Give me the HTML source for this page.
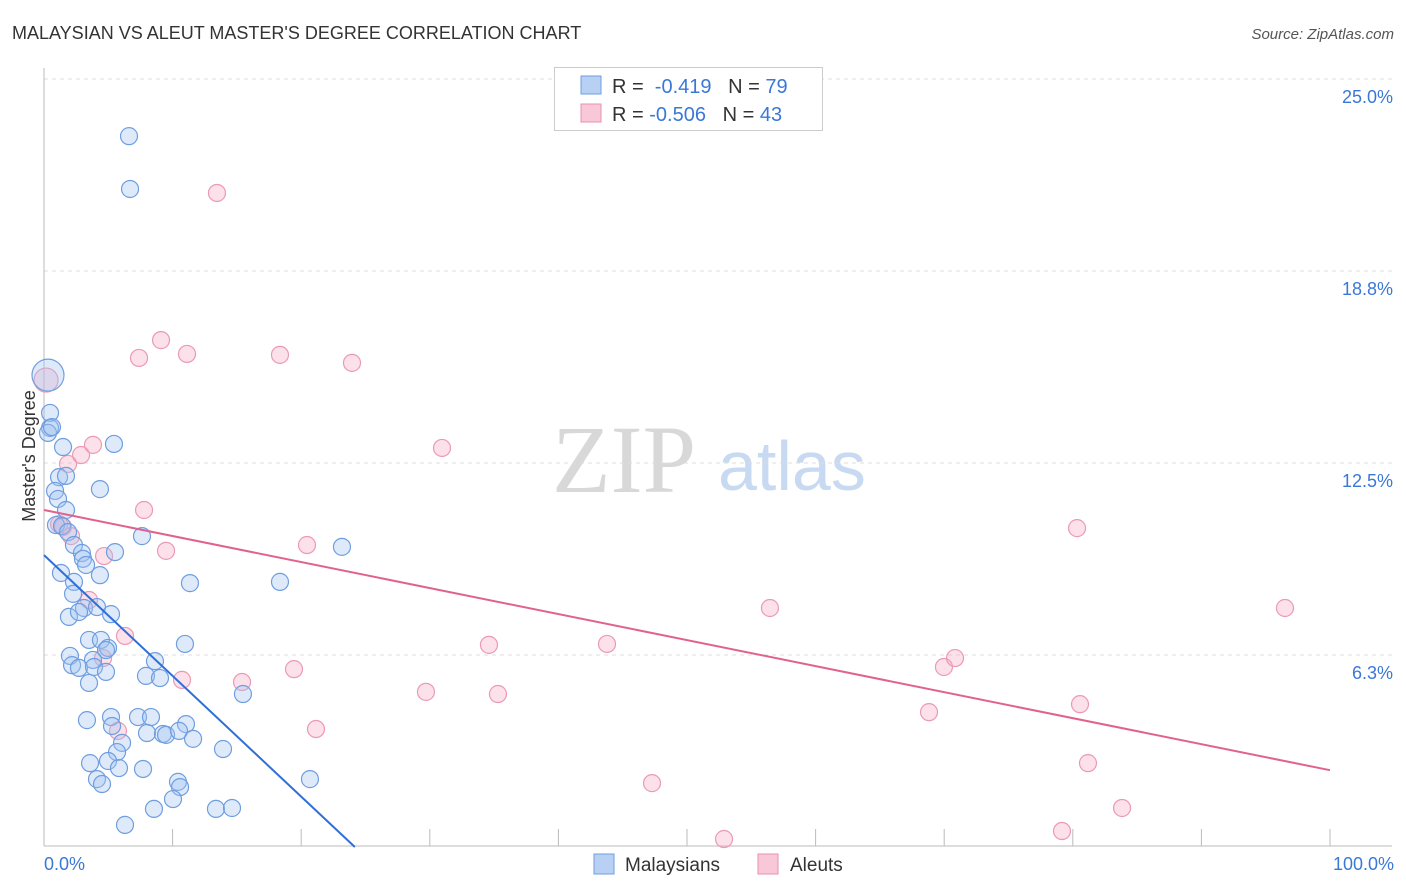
<!DOCTYPE html>
<html><head><meta charset="utf-8">
<style>
body{margin:0;background:#fff;font-family:"Liberation Sans",sans-serif;}
#wrap{position:relative;width:1406px;height:892px;overflow:hidden;}
</style></head>
<body>
<div id="wrap">
<svg id="svg" width="1406" height="892">
<text x="12" y="39" font-size="18" fill="#333">MALAYSIAN VS ALEUT MASTER'S DEGREE CORRELATION CHART</text>
<text x="1394" y="39" font-size="15" fill="#555" font-style="italic" text-anchor="end">Source: ZipAtlas.com</text>
<text x="35" y="456" font-size="18" fill="#333" transform="rotate(-90 35 456)" text-anchor="middle">Master's Degree</text>
<g>
<text x="552" y="492" font-size="96" font-family="Liberation Serif,serif" fill="#d8d8d8">ZIP</text>
<text x="718" y="490" font-size="70" fill="#c8daf2">atlas</text>
</g>
<g id="grid"></g>
<g id="axes"></g>
<g id="pts"></g>
<g id="lines"></g>
<g>
<rect x="554.5" y="67.5" width="268" height="63" fill="#fff" stroke="#ccc"/>
<rect x="581" y="76" width="20" height="18" fill="#b8d0f4" stroke="#6f9ee0"/>
<rect x="581" y="104" width="20" height="18" fill="#f8c8d8" stroke="#e890ab"/>
<text x="612" y="93" font-size="20" fill="#333">R = <tspan fill="#3a78d8">&#160;-0.419</tspan>&#160;&#160;&#160;N = <tspan fill="#3a78d8">79</tspan></text>
<text x="612" y="121" font-size="20" fill="#333">R = <tspan fill="#3a78d8">-0.506</tspan>&#160;&#160;&#160;N = <tspan fill="#3a78d8">43</tspan></text>
</g>
<g>
<rect x="594" y="854" width="20" height="20" fill="#b8d0f4" stroke="#6f9ee0"/>
<text x="625" y="871" font-size="19" fill="#333">Malaysians</text>
<rect x="758" y="854" width="20" height="20" fill="#f8c8d8" stroke="#e890ab"/>
<text x="790" y="871" font-size="19" fill="#333">Aleuts</text>
</g>
</svg>
</div>
<script>
const yTicks=[6.25,12.5,18.75,25];
const yTickLabels=["6.3%","12.5%","18.8%","25.0%"];
const xTickValues=[0,10,20,30,40,50,60,70,80,90,100];
const xTickLabels=["0.0%","100.0%"];
const bluePx=[[48,375],[50,413],[50,428],[48,433],[52,427],[63,447],[59,477],[66,476],[55,491],[58,499],[66,510],[56,525],[62,526],[68,532],[74,545],[82,553],[83,559],[86,565],[115,552],[61,573],[100,575],[74,582],[73,594],[69,617],[84,608],[79,612],[97,607],[111,614],[89,640],[101,640],[108,648],[106,650],[70,656],[93,660],[72,665],[79,668],[94,667],[106,672],[89,683],[155,661],[146,676],[160,678],[185,644],[190,583],[280,582],[342,547],[142,536],[114,444],[100,489],[129,136],[130,189],[87,720],[111,717],[138,717],[151,717],[147,733],[163,734],[166,735],[186,724],[179,731],[193,739],[112,726],[243,694],[223,749],[122,743],[117,752],[90,763],[108,761],[119,768],[143,769],[97,779],[102,784],[178,782],[180,787],[173,799],[154,809],[216,809],[232,808],[125,825],[310,779]];
const pinkPx=[[46,380],[59,524],[63,527],[71,536],[68,464],[81,455],[93,445],[104,556],[89,600],[125,636],[103,658],[118,731],[144,510],[166,551],[182,680],[242,682],[139,358],[161,340],[187,354],[217,193],[280,355],[352,363],[294,669],[316,729],[307,545],[442,448],[426,692],[489,645],[498,694],[607,644],[652,783],[724,839],[770,608],[929,712],[944,667],[955,658],[1077,528],[1080,704],[1088,763],[1062,831],[1122,808],[1285,608]];
const malaysianX=bluePx.map(p=>+((p[0]-44)/12.86).toFixed(2));
const malaysianY=bluePx.map(p=>+((847-p[1])/30.72).toFixed(2));
const aleutX=pinkPx.map(p=>+((p[0]-44)/12.86).toFixed(2));
const aleutY=pinkPx.map(p=>+((847-p[1])/30.72).toFixed(2));
const blueTrend=[9.5,-0.393];
const pinkTrend=[10.97,-0.0847];
const NS="http://www.w3.org/2000/svg";
const X=v=>44+v*12.86, Y=v=>847-v*30.72;
function mk(t,a,p){const e=document.createElementNS(NS,t);for(const k in a)e.setAttribute(k,a[k]);p.appendChild(e);return e;}
const grid=document.getElementById('grid'),axes=document.getElementById('axes');
yTicks.forEach((v,i)=>{
 const l=mk('line',{x1:44,x2:1392,y1:Y(v),y2:Y(v),stroke:'#ddd','stroke-dasharray':'4,4'},grid);
 
 
 const t=mk('text',{x:1393,y:Y(v)+24,'font-size':18,fill:'#3a78d8','text-anchor':'end'},axes);
 t.textContent=yTickLabels[i];
 
 
});
const ya=mk('line',{x1:44,x2:44,y1:68,y2:846,stroke:'#bbb'},axes);


const xa=mk('line',{x1:44,x2:1392,y1:846,y2:846,stroke:'#bbb'},axes);


xTickValues.forEach(v=>{
 const l=mk('line',{x1:X(v),x2:X(v),y1:829,y2:846,stroke:'#bbb'},axes);
 
 
});
const xl0=mk('text',{x:44,y:870,'font-size':18,fill:'#3a78d8'},axes);xl0.textContent=xTickLabels[0];


const xl1=mk('text',{x:1394,y:870,'font-size':18,fill:'#3a78d8','text-anchor':'end'},axes);xl1.textContent=xTickLabels[1];


const pts=document.getElementById('pts');
aleutX.forEach((x,i)=>{
 const c=mk('circle',{cx:X(x),cy:Y(aleutY[i]),r:i==0?12:8.5,fill:'rgba(245,170,195,0.35)',stroke:'#eb9ab3','stroke-width':1.2},pts);
 
 
});
malaysianX.forEach((x,i)=>{
 const c=mk('circle',{cx:X(x),cy:Y(malaysianY[i]),r:i==0?16:8.5,fill:'rgba(160,195,240,0.35)',stroke:'#6f9ee0','stroke-width':1.2},pts);
 
 
});
const lines=document.getElementById('lines');
const bxEnd=-blueTrend[0]/blueTrend[1];
const bl=mk('line',{x1:X(0),y1:Y(blueTrend[0]),x2:X(bxEnd),y2:Y(0),stroke:'#2f6fd8','stroke-width':2},lines);


const pl=mk('line',{x1:X(0),y1:Y(pinkTrend[0]),x2:X(100),y2:Y(pinkTrend[0]+100*pinkTrend[1]),stroke:'#e0628e','stroke-width':2},lines);


</script>
</body></html>
